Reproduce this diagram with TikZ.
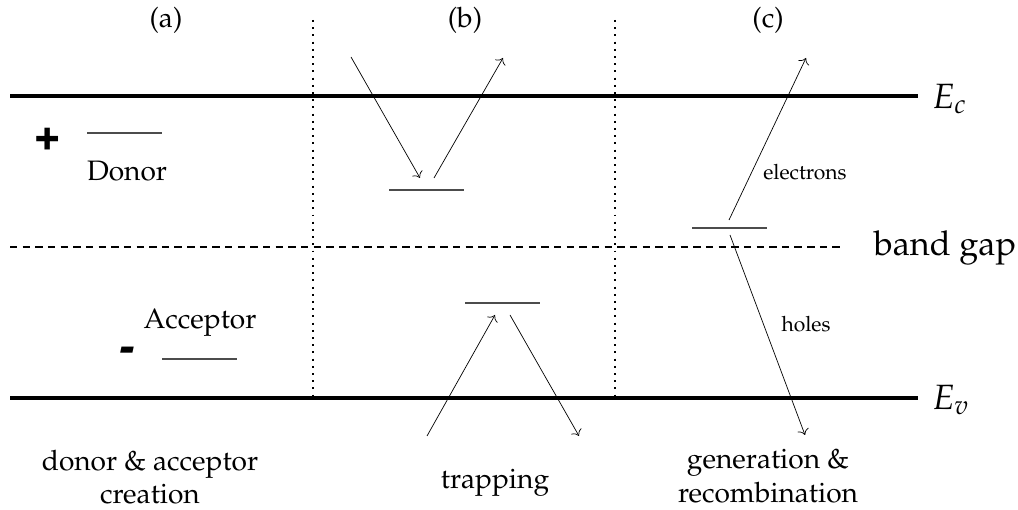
\documentclass[tikz,border=0pt]{standalone}
\usepackage[T1]{fontenc}
\usepackage{mathpazo}
\usepackage[scaled]{helvet}
\usetikzlibrary{arrows.meta, positioning, calc}

\begin{document}
\begin{tikzpicture}[
    every node/.style={font=\fontsize{16}{19}\selectfont},
    band/.style={line width=2.6pt},
    level/.style={black!70, line width=0.8pt},
    hop/.style={thin, -{To[scale=1.3]}},
    small/.style={font=\fontsize{12}{14}\selectfont},
    big/.style={font=\fontsize{20}{24}\selectfont},
    charge/.style={font=\fontsize{27}{30}\selectfont\sffamily\bfseries}
  ]
    \useasboundingbox (0,0) rectangle (20.36,10.2);

    % Bands
    \coordinate (ecL) at (0.2,8.28);
    \coordinate (ecR) at (18.36,8.28);
    \coordinate (evL) at (0.2,2.24);
    \coordinate (evR) at (18.36,2.24);
    \coordinate (gapL) at (0.2,5.26);
    \coordinate (gapR) at (16.86,5.26);
    \draw[band] (ecL) -- (ecR);
    \draw[band] (evL) -- (evR);
    \draw[line width=0.6pt, dash pattern=on 4.2pt off 3pt] (gapL) -- (gapR);
    \node[big, anchor=west] (ec) at (18.52,8.22) {$E_c$};
    \node[big, anchor=west] (ev) at (18.52,2.2) {$E_v$};
    \node[font=\fontsize{19.5}{23}\selectfont, inner sep=0pt] (gap) at (18.9,5.24) {band gap};

    % Separators
    \coordinate (sepAt) at (6.26,9.8);
    \coordinate (sepAb) at (6.26,2.3);
    \coordinate (sepBt) at (12.3,9.8);
    \coordinate (sepBb) at (12.3,2.3);
    \draw[line width=1.1pt, dash pattern=on 1.1pt off 3pt] (sepAt) -- (sepAb);
    \draw[line width=1.1pt, dash pattern=on 1.1pt off 3pt] (sepBt) -- (sepBb);

    % Panel titles
    \node (ta) at (3.32,9.8) {(a)};
    \node (tb) at (9.3,9.8) {(b)};
    \node (tc) at (15.36,9.8) {(c)};

    % (a) donor & acceptor
    \node[charge] (plus) at (0.96,7.44) {+};
    \coordinate (donL) at (1.74,7.54);
    \coordinate (donR) at (3.24,7.54);
    \draw[level] (donL) -- (donR);
    \node (donor) at (2.54,6.78) {Donor};
    \node (acceptor) at (4.0,3.74) {Acceptor};
    \node[charge] (minus) at (2.5,3.1) {\slshape -};
    \coordinate (accL) at (3.24,3.02);
    \coordinate (accR) at (4.74,3.02);
    \draw[level] (accL) -- (accR);
    \node[align=center] (capa) at (3.0,0.66) {donor \& acceptor\\creation};

    % (b) trapping
    \coordinate (trapL) at (7.78,6.4);
    \coordinate (trapR) at (9.28,6.4);
    \draw[level] (trapL) -- (trapR);
    \coordinate (inA) at (7.02,9.06);
    \coordinate (inB) at (8.4,6.64);
    \coordinate (outA) at (8.68,6.64);
    \coordinate (outB) at (10.06,9.04);
    \draw[hop] (inA) -- (inB);
    \draw[hop] (outA) -- (outB);
    \coordinate (htrapL) at (9.3,4.14);
    \coordinate (htrapR) at (10.8,4.14);
    \draw[level] (htrapL) -- (htrapR);
    \coordinate (upA) at (8.54,1.48);
    \coordinate (upB) at (9.9,3.9);
    \coordinate (downA) at (10.2,3.9);
    \coordinate (downB) at (11.58,1.48);
    \draw[hop] (upA) -- (upB);
    \draw[hop] (downA) -- (downB);
    \node (capb) at (9.9,0.54) {trapping};

    % (c) generation & recombination
    \coordinate (genL) at (13.84,5.64);
    \coordinate (genR) at (15.34,5.64);
    \draw[level] (genL) -- (genR);
    \coordinate (elA) at (14.58,5.8);
    \coordinate (elB) at (16.12,9.04);
    \coordinate (hoA) at (14.6,5.5);
    \coordinate (hoB) at (16.1,1.5);
    \draw[hop] (elA) -- (elB);
    \draw[hop] (hoA) -- (hoB);
    \node[small] (electrons) at (16.1,6.76) {electrons};
    \node[small] (holes) at (16.12,3.72) {holes};
    \node[align=center] (capc) at (15.36,0.68) {generation \&\\recombination};
\end{tikzpicture}
\end{document}
